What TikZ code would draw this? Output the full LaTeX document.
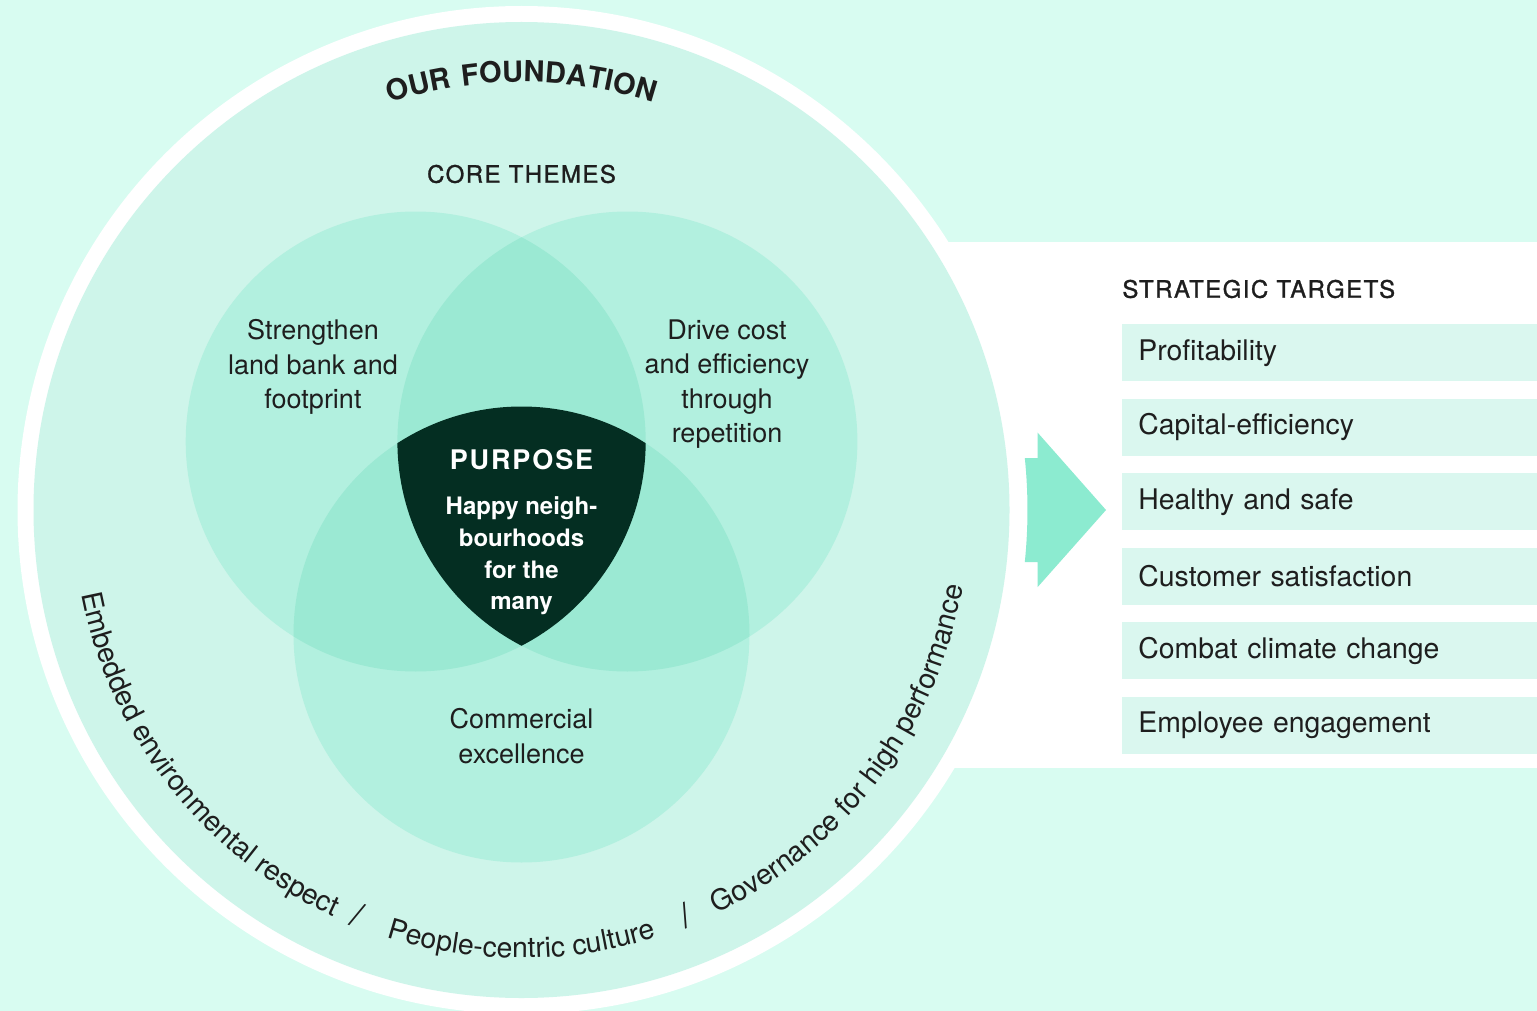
\documentclass[tikz,border=0pt]{standalone}
\usepackage{fontspec}
\setmainfont{TeX Gyre Heros}
\newfontfamily\trackedfont[LetterSpace=7]{TeX Gyre Heros}
\newfontfamily\headingfont[LetterSpace=6,FakeBold=1.2]{TeX Gyre Heros}
\usetikzlibrary{calc,decorations.text}

\definecolor{mint}{HTML}{D8FCF1}
\definecolor{ringfill}{HTML}{CEF5EA}
\definecolor{themefill}{HTML}{B2F0DF}
\definecolor{overlapfill}{HTML}{9BE9D3}
\definecolor{purposefill}{HTML}{042E22}
\definecolor{arrowfill}{HTML}{8CEBD0}
\definecolor{boxfill}{HTML}{DAF7EF}
\definecolor{ink}{HTML}{1E1E1E}

\newcommand\foundationfont{\trackedfont\bfseries\fontsize{14.5}{16}\selectfont}
\newcommand\arcfont{\fontsize{14.2}{16}\selectfont}

\begin{document}
\begin{tikzpicture}[x=0.5pt,y=0.5pt,
  heading/.style={inner sep=0pt,text=ink,font=\headingfont\fontsize{12}{14}\selectfont},
  themetext/.style={align=center,text=ink,font=\fontsize{13.5}{17.25}\selectfont},
  targetbox/.style={fill=boxfill,anchor=north west,minimum height=28.5pt,
    text width=191.5pt,inner xsep=8pt,inner ysep=0pt,align=left,
    text=ink,font=\fontsize{14.2}{16}\selectfont},
  arclabel/.style={text=ink,font=\fontsize{17}{18}\selectfont}]

\useasboundingbox (0,0) rectangle (1537,-1011);

% Background
\fill[mint] (0,0) rectangle (1537,-1011);

% White band behind the targets
\fill[white] (700,-242) rectangle (1537,-768);

% Foundation ring
\coordinate (O) at (521.5,-510);
\fill[white] (O) circle (504);
\fill[ringfill] (O) circle (488);

% Arrow
\fill[arrowfill] (1037.7,-458) -- (1037.7,-432.7) -- (1106,-510) -- (1037.7,-587)
  -- (1037.7,-562) -- ($(O)+(-5.9:506)$) arc[start angle=-5.9,end angle=5.9,radius=506] -- cycle;

% Core themes
\coordinate (L) at (415.7,-441.5);
\coordinate (R) at (627.4,-441.5);
\coordinate (B) at (521.5,-634.5);
\fill[themefill] (L) circle (230);
\fill[themefill] (R) circle (230);
\fill[themefill] (B) circle (228);

% Overlaps
\begin{scope}
  \clip (L) circle (230);
  \fill[overlapfill] (R) circle (230);
  \fill[overlapfill] (B) circle (228);
\end{scope}
\begin{scope}
  \clip (R) circle (230);
  \fill[overlapfill] (B) circle (228);
\end{scope}

% Purpose in the middle
\begin{scope}
  \clip (L) circle (230);
  \clip (R) circle (230);
  \fill[purposefill] (B) circle (228);
\end{scope}

% Labels
\path[decorate,decoration={text along path,text align=center,text color=ink,
  text={|\foundationfont|OUR FOUNDATION}}]
  ($(O)+(125:428)$) arc[start angle=125,end angle=55,radius=428];

\node[heading] (core) at (521.5,-174) {CORE THEMES};
\node[themetext] (land) at (313,-367) {Strengthen\\land bank and\\footprint};
\node[themetext] (cost) at (727,-384) {Drive cost\\and efficiency\\through\\repetition};
\node[themetext] (commercial) at (521.5,-736) {Commercial\\excellence};

\node[text=white,font=\trackedfont\bfseries\fontsize{13.5}{16}\selectfont] (purpose) at (521.5,-460) {PURPOSE};
\node[align=center,text=white,font=\bfseries\fontsize{12}{15.85}\selectfont] (happy) at (521.5,-556)
  {Happy neigh-\\bourhoods\\for the\\many};

% Foundation values along the ring
\path[decorate,decoration={text along path,text align=center,text color=ink,
  text={|\arcfont|Embedded environmental respect}}]
  ($(O)+(180:448)$) arc[start angle=180,end angle=256,radius=448];
\path[decorate,decoration={text along path,text align=center,text color=ink,
  text={|\arcfont|People-centric culture}}]
  ($(O)+(240:448)$) arc[start angle=240,end angle=300,radius=448];
\path[decorate,decoration={text along path,text align=center,text color=ink,
  text={|\arcfont|Governance for high performance}}]
  ($(O)+(284:448)$) arc[start angle=284,end angle=362,radius=448];
\node[arclabel,rotate=-22] (slash1) at ($(O)+(248:437)$) {/};
\node[arclabel,rotate=22] (slash2) at ($(O)+(292:437)$) {/};

% Strategic targets
\node[heading,anchor=west] (targets) at (1122,-289) {STRATEGIC TARGETS};
\foreach \target [count=\i from 0] in {Profitability,Capital-efficiency,Healthy and safe,
  Customer satisfaction,Combat climate change,Employee engagement}
  \node[targetbox] (target\i) at (1122,{-324-74.5*\i}) {\target};

\end{tikzpicture}
\end{document}
